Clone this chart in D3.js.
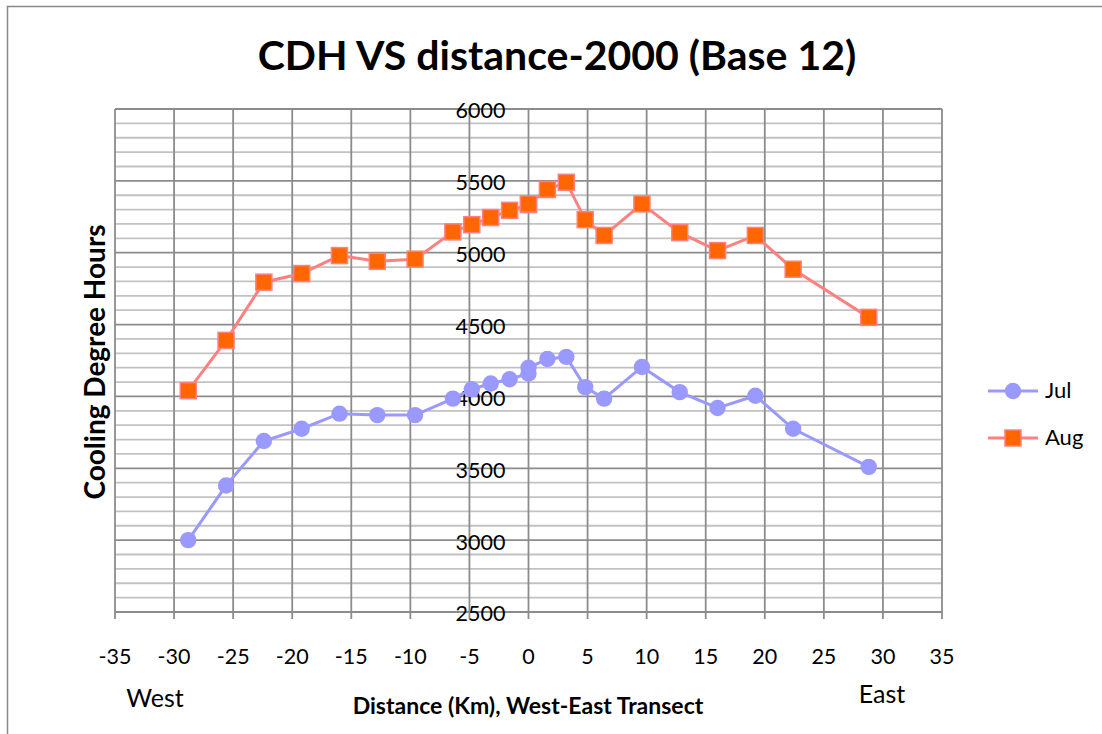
<!DOCTYPE html>
<html><head><meta charset="utf-8">
<script src="https://cdn.jsdelivr.net/npm/d3@7/dist/d3.min.js"></script>
<style>body{margin:0;background:#fff;} text{font-family:Lato,"Open Sans",sans-serif;}</style>
</head><body><svg id="c" width="1102" height="734"></svg>
<script>
const distances = [-28.8,-25.6,-22.4,-19.2,-16,-12.8,-9.6,-6.4,-4.8,-3.2,-1.6,0,0,1.6,3.2,4.8,6.4,9.6,12.8,16,19.2,22.4,28.8];
const julValues = [3000,3380,3690,3775,3880,3870,3870,3985,4050,4090,4120,4160,4200,4260,4275,4065,3985,4205,4030,3920,4005,3775,3510];
const augValues = [4040,4390,4795,4855,4980,4940,4955,5145,5195,5245,5295,5335,5340,5440,5490,5230,5120,5340,5140,5015,5120,4885,4550];
const xTicks = [-35,-30,-25,-20,-15,-10,-5,0,5,10,15,20,25,30,35];
const yTicks = [2500,3000,3500,4000,4500,5000,5500,6000];
const seriesNames = ["Jul","Aug"];

const svg = d3.select("#c");
svg.append("rect").attr("x",7.5).attr("y",6.5).attr("width",1100).attr("height",740)
  .attr("fill","none").attr("stroke","#888").attr("stroke-width",1.5);

const L=115,R=942,T=109,B=612;
const x = d3.scaleLinear().domain([-35,35]).range([L,R]);
const y = d3.scaleLinear().domain([2500,6000]).range([B,T]);

// minor horizontal gridlines
const minor = d3.range(2600,6000,100).filter(v=>v%500!==0);
svg.append("g").selectAll("line").data(minor).join("line")
  .attr("x1",L).attr("x2",R).attr("y1",d=>y(d)).attr("y2",d=>y(d))
  .attr("stroke","#c2c2c2").attr("stroke-width",1.8);
// major horizontal
svg.append("g").selectAll("line").data(yTicks).join("line")
  .attr("x1",L).attr("x2",R).attr("y1",d=>y(d)).attr("y2",d=>y(d))
  .attr("stroke","#8c8c8c").attr("stroke-width",1.8);
// vertical gridlines + ticks
svg.append("g").selectAll("line").data(xTicks).join("line")
  .attr("x1",d=>x(d)).attr("x2",d=>x(d)).attr("y1",T).attr("y2",B+7)
  .attr("stroke","#8c8c8c").attr("stroke-width",1.8);

// tick labels
svg.append("g").selectAll("text").data(yTicks).join("text")
  .attr("x",x(0)-23).attr("y",d=>y(d)+4).attr("text-anchor","end")
  .attr("dominant-baseline","middle").attr("font-size",21.5).text(d=>d);
svg.append("g").selectAll("text").data(xTicks).join("text")
  .attr("x",d=>x(d)).attr("y",659).attr("text-anchor","middle")
  .attr("dominant-baseline","middle").attr("font-size",21.5).text(d=>d);

// series
const julData = distances.map((d,i)=>[d,julValues[i]]);
const augData = distances.map((d,i)=>[d,augValues[i]]);
const line = d3.line().x(d=>x(d[0])).y(d=>y(d[1]));
svg.append("path").datum(julData).attr("d",line).attr("fill","none").attr("stroke","#9999ff").attr("stroke-width",3);
svg.append("g").selectAll("circle").data(julData).join("circle")
  .attr("cx",d=>x(d[0])).attr("cy",d=>y(d[1])).attr("r",8.2).attr("fill","#9999ff");
svg.append("path").datum(augData).attr("d",line).attr("fill","none").attr("stroke","#ff8080").attr("stroke-width",3);
svg.append("g").selectAll("rect").data(augData).join("rect")
  .attr("x",d=>x(d[0])-8).attr("y",d=>y(d[1])-8).attr("width",16).attr("height",16)
  .attr("fill","#ff6600").attr("stroke","#ff8080").attr("stroke-width",1.5);

// title & axis titles
svg.append("text").attr("x",557).attr("y",70).attr("text-anchor","middle")
  .attr("font-size",41).attr("font-weight","bold").text("CDH VS distance-2000 (Base 12)");
svg.append("text").attr("transform","translate(105,362) rotate(-90)").attr("text-anchor","middle")
  .attr("font-size",28).attr("font-weight","bold").text("Cooling Degree Hours");
svg.append("text").attr("x",528).attr("y",714).attr("text-anchor","middle")
  .attr("font-size",23).attr("font-weight","bold").text("Distance (Km), West-East Transect");
svg.append("text").attr("x",155).attr("y",707).attr("text-anchor","middle").attr("font-size",25).text("West");
svg.append("text").attr("x",882).attr("y",703).attr("text-anchor","middle").attr("font-size",25).text("East");

// legend
const leg = svg.append("g");
const legY = [391,438];
seriesNames.forEach((n,i)=>{
  const g = leg.append("g").attr("transform",`translate(0,${legY[i]})`);
  g.append("line").attr("x1",988).attr("x2",1038).attr("y1",0).attr("y2",0)
    .attr("stroke",i?"#ff8080":"#9999ff").attr("stroke-width",3);
  if(i===0) g.append("circle").attr("cx",1013).attr("cy",0).attr("r",8.2).attr("fill","#9999ff");
  else g.append("rect").attr("x",1005).attr("y",-8).attr("width",16).attr("height",16)
    .attr("fill","#ff6600").attr("stroke","#ff8080").attr("stroke-width",1.5);
  g.append("text").attr("x",1045).attr("y",1).attr("dominant-baseline","middle").attr("font-size",22).text(n);
});
</script></body></html>
